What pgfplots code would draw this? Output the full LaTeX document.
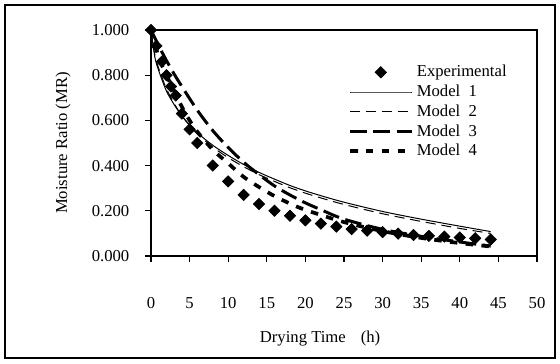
\documentclass[border=0pt]{standalone}
\usepackage{fontspec}
\setmainfont{Liberation Serif}
\usepackage{pgfplots}
\pgfplotsset{compat=1.18}
\begin{document}
\begin{tikzpicture}[font=\fontsize{10}{12}\selectfont]
\useasboundingbox (-90.6pt,-64.8pt) rectangle (245.4pt,153.6pt);
\draw[line width=1.2pt] (-87.6pt,-61.2pt) rectangle (242.4pt,150.6pt);
\begin{axis}[
  scale only axis, width=231.6pt, height=135.6pt,
  xmin=0, xmax=50, ymin=0, ymax=1,
  xtick={0,5,...,50}, ytick={0,0.2,0.4,0.6,0.8,1.0},
  tick pos=left, tick align=outside, major tick length=3.5pt,
  axis line style={line width=1pt}, tick style={line width=0.8pt,black},
  /pgf/number format/assume math mode=true,
  yticklabel style={/pgf/number format/fixed,/pgf/number format/fixed zerofill,/pgf/number format/precision=3,xshift=-6pt},
  xticklabel style={yshift=-18pt},
  scaled y ticks=false,
  xlabel={Drying Time\hspace{0.9em}(h)},
  ylabel={Moisture Ratio (MR)},
  xlabel style={at={(axis description cs:0.438,-0.363)},anchor=center},
  ylabel style={at={(axis description cs:-0.228,0.5)},anchor=center},
  legend style={at={(axis description cs:0.497,0.875)},anchor=north west,draw=none,fill=none,
    row sep=-0.6pt, font=\fontsize{10}{12}\selectfont},
  legend cell align=left,
  legend image code/.code={\draw[mark repeat=2,mark phase=2,#1] plot coordinates {(0pt,0pt)(18.5pt,0pt)(37pt,0pt)};},
]
\addplot[only marks, mark=square*, mark size=2.4pt, mark options={rotate=45,fill=black}] coordinates {
(0,1.000)(0.7,0.93)(1.4,0.86)(2,0.80)(2.6,0.75)(3.2,0.71)(4,0.63)(5,0.56)(6,0.50)(8,0.40)(10,0.33)(12,0.27)(14,0.23)(16,0.20)(18,0.178)(20,0.158)(22,0.143)(24,0.13)(26,0.119)(28,0.112)(30,0.106)(32,0.099)(34,0.093)(36,0.089)(38,0.086)(40,0.082)(42,0.078)(44,0.073)};
\addlegendentry{Experimental}
\addplot[black, line width=0.6pt, smooth] coordinates {
(0,1.0)(0.5,0.88)(1,0.82)(2,0.73)(3,0.67)(4,0.62)(5,0.58)(6,0.545)(8,0.49)(10,0.445)(12,0.405)(14,0.37)(16,0.34)(18,0.312)(20,0.288)(22,0.267)(25,0.238)(30,0.197)(35,0.163)(40,0.132)(44,0.108)};
\addlegendentry{Model\ \ 1}
\addplot[black, line width=0.6pt, dash pattern=on 6pt off 3.5pt, smooth] coordinates {
(0,1.0)(0.5,0.89)(1,0.83)(2,0.74)(3,0.675)(4,0.62)(5,0.578)(6,0.54)(8,0.482)(10,0.435)(12,0.395)(14,0.36)(16,0.33)(18,0.302)(20,0.278)(22,0.257)(25,0.228)(30,0.187)(35,0.153)(40,0.122)(44,0.100)};
\addlegendentry{Model\ \ 2}
\addplot[black, line width=1.8pt, dash pattern=on 10pt off 4pt, smooth] coordinates {
(0,1.0)(1,0.93)(2,0.865)(3,0.805)(4,0.75)(6,0.645)(8,0.555)(10,0.48)(12,0.415)(14,0.36)(16,0.31)(18,0.27)(20,0.235)(22,0.205)(25,0.163)(30,0.118)(35,0.087)(40,0.062)(44,0.044)};
\addlegendentry{Model\ \ 3}
\addplot[black, line width=2.2pt, dash pattern=on 4.5pt off 5pt, smooth] coordinates {
(0,1.0)(1,0.88)(2,0.80)(3,0.73)(4,0.66)(5,0.60)(6,0.55)(8,0.47)(10,0.41)(12,0.35)(14,0.305)(16,0.265)(18,0.232)(20,0.204)(25,0.15)(30,0.11)(35,0.08)(40,0.057)(44,0.042)};
\addlegendentry{Model\ \ 4}
\end{axis}
\end{tikzpicture}
\end{document}
